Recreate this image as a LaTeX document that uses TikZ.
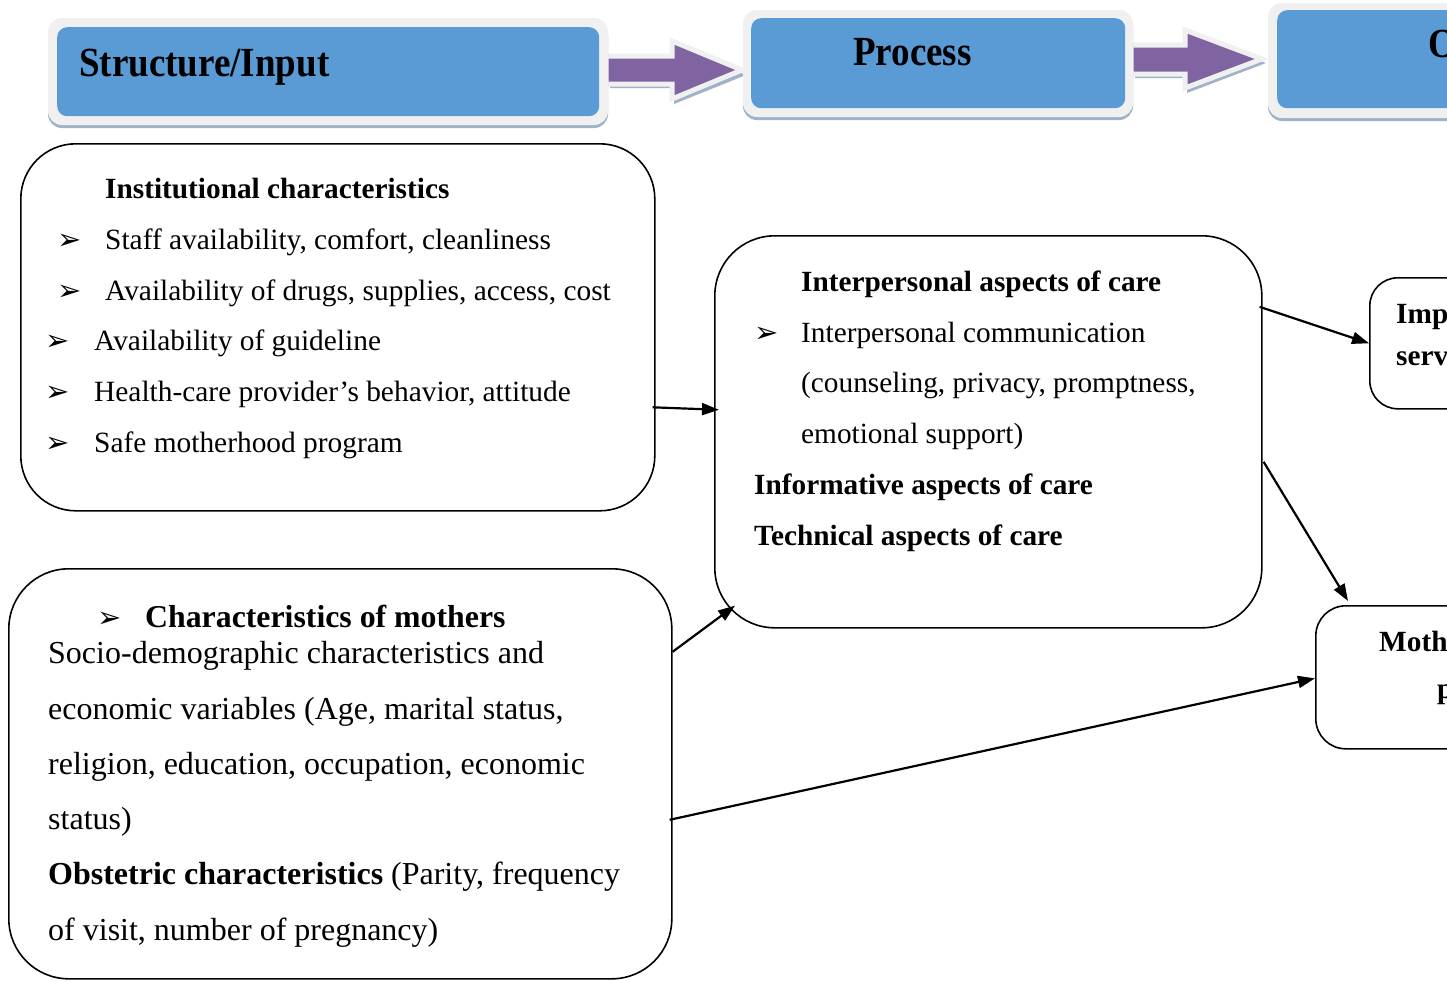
\documentclass[tikz,border=0pt]{standalone}
\usepackage{fontspec}
\setmainfont{Liberation Serif}
\newfontfamily\symfont{DejaVu Sans}
\usetikzlibrary{arrows.meta,calc}
\definecolor{hdrblue}{HTML}{5B9BD5}
\definecolor{hdrpurple}{HTML}{8064A2}
\definecolor{hdrrim}{HTML}{F0F0F0}
\definecolor{hdrshade}{HTML}{9FB2C8}
\newcommand{\bul}{{\symfont\fontsize{29}{29}\selectfont ➢}}
\begin{document}
\begin{tikzpicture}[x=1pt,y=-1pt,
  hdrshadow/.style={fill=hdrshade, draw=none, rounded corners=14pt},
  hdrouter/.style={fill=hdrrim, draw=none, rounded corners=14pt},
  hdrinner/.style={fill=hdrblue, draw=none, rounded corners=10pt},
  blockarrow/.style={fill=hdrpurple, draw=hdrrim, line width=5pt, line join=miter},
  blockshadow/.style={fill=hdrshade, draw=none},
  hdrtext/.style={anchor=base west, inner sep=0pt, font=\fontsize{37}{37}\selectfont\bfseries},
  card/.style={draw=black, line width=1.6pt, rounded corners=#1, inner sep=0pt, anchor=north west},
  txtA/.style={anchor=base west, inner sep=0pt, font=\fontsize{29.4}{30}\selectfont},
  txtB/.style={anchor=base west, inner sep=0pt, font=\fontsize{32}{33}\selectfont},
  txtC/.style={anchor=base west, inner sep=0pt, font=\fontsize{29.3}{30}\selectfont},
  boldtxt/.style={anchor=base west, inner sep=0pt, font=\fontsize{29.3}{30}\selectfont\bfseries},
  bulletmark/.style={anchor=base west, inner sep=0pt},
  conn/.style={draw=black, line width=2.2pt, -{Triangle[length=17pt,width=12pt]}}
]
\useasboundingbox (0,0) rectangle (1447,980);
\clip (0,0) rectangle (1447,980);
\fill[white] (0,0) rectangle (1447,980);

% block arrows between the header boxes
\fill[blockshadow] (610,60) -- (674,60) -- (674,46) -- (746,75) -- (674,104) -- (674,88) -- (610,88) -- cycle;
\path[blockarrow] (606,56) -- (672,56) -- (672,41) -- (742,70) -- (672,99) -- (672,84) -- (606,84) -- cycle;
\fill[blockshadow] (1135,49) -- (1187,49) -- (1187,35) -- (1266,63) -- (1187,93) -- (1187,78) -- (1135,78) -- cycle;
\path[blockarrow] (1131,45) -- (1185,45) -- (1185,30) -- (1262,59) -- (1185,88) -- (1185,74) -- (1131,74) -- cycle;

% header boxes
\fill[hdrshadow] (48,21) rectangle (608,128);
\fill[hdrouter] (48,18) rectangle (608,125);
\node[hdrinner, anchor=north west, minimum width=542pt, minimum height=89pt] (H1) at (57,27) {};
\fill[hdrshadow] (743,13) rectangle (1133,120);
\fill[hdrouter] (743,10) rectangle (1133,117);
\node[hdrinner, anchor=north west, minimum width=374pt, minimum height=90pt] (H2) at (751,18) {};
\fill[hdrshadow] (1268,6) rectangle (1700,121);
\fill[hdrouter] (1268,3) rectangle (1700,118);
\node[hdrinner, anchor=north west, minimum width=400pt, minimum height=98pt] (H3) at (1277,10) {};

\node[hdrtext] (h1t) at (79,76) {\scalebox{1}[1.12]{Structure/Input}};
\node[hdrtext] (h2t) at (853,65) {\scalebox{1}[1.12]{Process}};
\node[hdrtext] (h3t) at (1428,57) {\scalebox{1}[1.12]{Outcome}};

% content boxes
\node[card=55pt, minimum width=634pt, minimum height=367pt] (A) at (20,143) {};
\node[card=60pt, minimum width=663pt, minimum height=410pt] (B) at (8,568) {};
\node[card=60pt, minimum width=547pt, minimum height=392pt] (C) at (714,235) {};
\node[card=28pt, minimum width=200pt, minimum height=131pt] (D) at (1369,277) {};
\node[card=30pt, minimum width=250pt, minimum height=143pt] (E) at (1315,605) {};

% institutional characteristics
\node[boldtxt] (a0) at (105,198) {Institutional characteristics};
\node[bulletmark] (ab1) at (57,249) {\bul};
\node[txtA] (a1) at (105,249) {Staff availability, comfort, cleanliness};
\node[bulletmark] (ab2) at (57,300) {\bul};
\node[txtA] (a2) at (105,300) {Availability of drugs, supplies, access, cost};
\node[bulletmark] (ab3) at (45,350) {\bul};
\node[txtA] (a3) at (94,350) {Availability of guideline};
\node[bulletmark] (ab4) at (45,401) {\bul};
\node[txtA] (a4) at (94,401) {Health-care provider’s behavior, attitude};
\node[bulletmark] (ab5) at (45,452) {\bul};
\node[txtA] (a5) at (94,452) {Safe motherhood program};

% characteristics of mothers
\node[bulletmark] (bb0) at (97,627) {\bul};
\node[txtB, font=\fontsize{31.8}{32}\selectfont\bfseries] (b0) at (145,627) {Characteristics of mothers};
\node[txtB] (b1) at (48,663) {Socio-demographic characteristics and};
\node[txtB] (b2) at (48,719) {economic variables (Age, marital status,};
\node[txtB] (b3) at (48,774) {religion, education, occupation, economic};
\node[txtB] (b4) at (48,829) {status)};
\node[txtB] (b5) at (48,884) {\textbf{Obstetric characteristics} (Parity, frequency};
\node[txtB] (b6) at (48,940) {of visit, number of pregnancy)};

% process aspects
\node[boldtxt] (c0) at (801,291) {Interpersonal aspects of care};
\node[bulletmark] (cb1) at (754,342) {\bul};
\node[txtC] (c1) at (801,342) {Interpersonal communication};
\node[txtC] (c2) at (801,392) {(counseling, privacy, promptness,};
\node[txtC] (c3) at (801,443) {emotional support)};
\node[boldtxt] (c4) at (754,494) {Informative aspects of care};
\node[boldtxt] (c5) at (754,545) {Technical aspects of care};

% outcome boxes
\node[boldtxt] (d1) at (1396,323) {Improved quality};
\node[boldtxt] (d2) at (1396,365) {services};
\node[boldtxt] (e1) at (1379,651) {Mothers’ satisfaction};
\node[boldtxt] (e2) at (1437,698) {perception};

% connectors
\draw[conn] ($(A.east)+(-3,80)$) -- ($(C.west)+(5,-22)$);
\draw[conn] ($(B.east)+(0,-122)$) -- ($(C.south west)+(21,-23)$);
\draw[conn] ($(B.east)+(-3,46)$) -- ($(E.west)+(0,1)$);
\draw[conn] ($(C.east)+(-3,-125)$) -- (D.west);
\draw[conn] ($(C.east)+(1,30)$) -- ($(E.north west)+(33,-4)$);
\end{tikzpicture}
\end{document}
